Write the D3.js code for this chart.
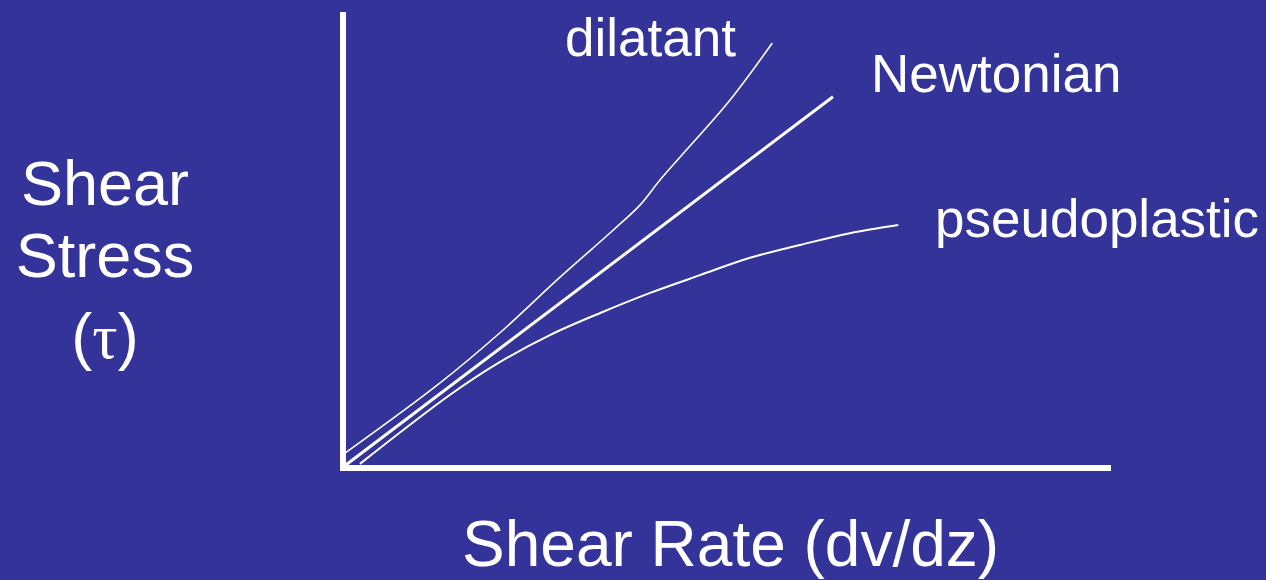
<!DOCTYPE html>
<html lang="en">
<head>
<meta charset="UTF-8">
<title>Shear stress vs shear rate</title>
<style>
  html, body { margin: 0; padding: 0; background: #333399; }
  svg { display: block; }
  text { fill: #fff; font-family: "Liberation Sans", Arial, sans-serif; }
  .curve { fill: none; stroke: #fff; }
</style>
</head>
<body>
<svg></svg>
<script src="https://d3js.org/d3.v7.min.js"></script>
<script>

// curves (x = shear rate, y = shear stress, 0-100)
const newtonian = [[0.4, 0.7], [63.8, 81.4]];

const dilatant = [
  [0.3, 3.3], [12.6, 18.6], [20.4, 29.6], [28.3, 41.9], [35.2, 52.2],
  [38.7, 57.7], [41.3, 63.2], [43.9, 68.2], [50.4, 80.7], [55.9, 93.2]
];

const pseudoplastic = [
  [2.2, 0.9], [13.9, 16.0], [20.4, 23.2], [27.0, 29.2], [33.5, 34.0],
  [40.0, 38.4], [46.5, 42.3], [53.0, 46.1], [59.5, 48.9], [66.0, 51.5], [72.3, 53.3]
];

const curveLabels = ["dilatant", "Newtonian", "pseudoplastic"];
const yLabelLines = ["Shear", "Stress"];
const xLabel = "Shear Rate (dv/dz)";

const width = 1266, height = 580;
const svg = d3.select("svg").attr("width", width).attr("height", height);

svg.append("rect").attr("width", width).attr("height", height).attr("fill", "#333399");

const x = d3.scaleLinear().domain([0, 100]).range([343, 1111]);
const y = d3.scaleLinear().domain([0, 100]).range([468, 12]);

// axes: plain thick white lines
svg.append("line")
  .attr("x1", x(0)).attr("x2", x(0))
  .attr("y1", y(100)).attr("y2", y(0) + 3)
  .attr("stroke", "#fff").attr("stroke-width", 6);

svg.append("line")
  .attr("x1", x(0) - 3).attr("x2", x(100))
  .attr("y1", y(0)).attr("y2", y(0))
  .attr("stroke", "#fff").attr("stroke-width", 6);

const line = d3.line()
  .x(d => x(d[0]))
  .y(d => y(d[1]))
  .curve(d3.curveCatmullRom.alpha(0.5));

svg.append("path").attr("class", "curve").attr("d", line(dilatant)).attr("stroke-width", 1.6);
svg.append("path").attr("class", "curve").attr("d", line(newtonian)).attr("stroke-width", 3);
svg.append("path").attr("class", "curve").attr("d", line(pseudoplastic)).attr("stroke-width", 2);

// curve labels
const labelPos = [[565, 56], [871, 92], [935, 237]];
svg.selectAll(".clabel")
  .data(curveLabels)
  .enter().append("text")
    .attr("class", "clabel")
    .attr("x", (d, i) => labelPos[i][0])
    .attr("y", (d, i) => labelPos[i][1])
    .attr("font-size", 53)
    .text(d => d);

// y label
const yl = svg.append("text")
  .attr("text-anchor", "middle")
  .attr("font-size", 63);
yLabelLines.forEach((t, i) => {
  yl.append("tspan").attr("x", 105).attr("y", 205 + i * 72).text(t);
});
const tau = yl.append("tspan").attr("x", 105).attr("y", 358);
tau.append("tspan").text("(");
tau.append("tspan").attr("font-family", "'Liberation Serif', 'DejaVu Serif', serif").text("τ");
tau.append("tspan").text(")");

// x label
svg.append("text")
  .attr("x", 462)
  .attr("y", 566)
  .attr("font-size", 64)
  .text(xLabel);

</script>
</body>
</html>
